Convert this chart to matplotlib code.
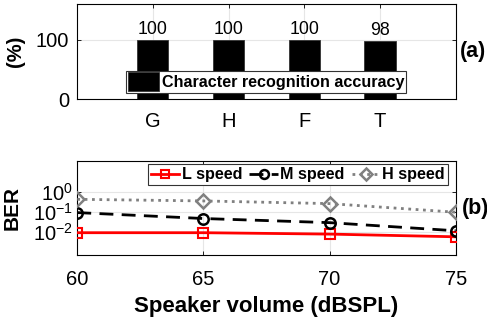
import matplotlib
matplotlib.use('Agg')
import matplotlib.pyplot as plt
import numpy as np

plt.rcParams['font.family'] = ['Liberation Sans', 'DejaVu Sans']
plt.rcParams['mathtext.fontset'] = 'custom'
plt.rcParams['mathtext.rm'] = 'Liberation Sans'
plt.rcParams['mathtext.it'] = 'Liberation Sans:italic'
plt.rcParams['mathtext.bf'] = 'Liberation Sans:bold'

# (a) character recognition accuracy per gesture set
chars = ['G', 'H', 'F', 'T']
accuracy = [100, 100, 100, 98]

# (b) BER vs speaker volume
volume = [60, 65, 70, 75]
ber_low = [0.0088, 0.0088, 0.0075, 0.0055]
ber_mid = [0.089, 0.045, 0.028, 0.011]
ber_high = [0.41, 0.34, 0.25, 0.093]

fig = plt.figure(figsize=(4.87, 3.2), dpi=100)
ax1 = fig.add_axes([0.1587, 0.6906, 0.777, 0.296])
ax2 = fig.add_axes([0.1587, 0.204, 0.777, 0.294])

grid_col = '#e6e6e6'

# --- top panel ---
xpos = np.arange(1, len(chars) + 1)
ax1.bar(xpos, accuracy, width=0.41, color='black', edgecolor='#333333',
        linewidth=0.6, label='Character recognition accuracy', zorder=2)
for x, v in zip(xpos, accuracy):
    ax1.text(x, v + 3, str(v), ha='center', va='bottom', fontsize=12.8)
ax1.set_xlim(0, 5)
ax1.set_ylim(0, 160)
ax1.set_xticks(xpos)
ax1.set_xticklabels(chars)
ax1.set_yticks([0, 100])
ax1.grid(True, color=grid_col, linewidth=0.8, zorder=0)
ax1.set_axisbelow(True)
ax1.tick_params(direction='in', length=3, labelsize=14.5, top=True, right=True,
                width=0.6, pad=6)
ax1.tick_params(axis='x', pad=9)
ax1.set_ylabel('(%)', fontsize=14.5, fontweight='bold')
ax1.yaxis.set_label_coords(-0.138, 0.5)
leg1 = ax1.legend(loc='lower center', bbox_to_anchor=(0.499, 0.063),
                  prop={'weight': 'bold', 'size': 11.6}, handlelength=1.9,
                  handleheight=1.45, handletextpad=0.2, borderpad=0.1,
                  fancybox=False, framealpha=1, edgecolor='#333333',
                  borderaxespad=0)
leg1.get_frame().set_linewidth(0.8)
ax1.text(1.011, 0.5, '(a)', transform=ax1.transAxes, fontsize=15.5,
         fontweight='bold', va='center', ha='left')

# --- bottom panel ---
ax2.plot(volume, ber_low, color='red', linestyle='-', linewidth=2,
         marker='s', markersize=6.5, markerfacecolor='none',
         markeredgewidth=1.5, label='L speed', zorder=3)
ax2.plot(volume, ber_mid, color='black', linestyle=(0, (5, 3)), linewidth=2,
         marker='o', markersize=7.5, markerfacecolor='none',
         markeredgewidth=1.8, label='M speed', zorder=3)
ax2.plot(volume, ber_high, color='#808080', linestyle=':', linewidth=2,
         marker='D', markersize=7, markerfacecolor='none',
         markeredgewidth=1.8, label='H speed', zorder=3)
ax2.set_yscale('log')
ax2.set_xlim(60, 75)
ax2.set_ylim(7e-4, 35)
ax2.set_xticks(volume)
ax2.set_yticks([1e-2, 1e-1, 1e0])
ax2.set_yticklabels(['$10^{-2}$', '$10^{-1}$', '$10^{0}$'])
ax2.grid(True, which='major', color=grid_col, linewidth=0.8)
ax2.grid(True, which='minor', axis='y', color='#e6e6e6', linestyle=':',
         linewidth=0.7)
ax2.tick_params(which='both', direction='in', top=True, right=True, width=0.6)
ax2.tick_params(which='major', length=3, labelsize=14.5, pad=3)
ax2.tick_params(axis='x', pad=11)
ax2.tick_params(which='minor', length=2)
ax2.set_ylabel('BER', fontsize=15, fontweight='bold')
ax2.yaxis.set_label_coords(-0.146, 0.5)
ax2.set_xlabel('Speaker volume (dBSPL)', fontsize=16, fontweight='bold',
               labelpad=5)
leg2 = ax2.legend(loc='upper right', bbox_to_anchor=(0.98, 0.965), ncol=3,
                  prop={'weight': 'bold', 'size': 11.6}, handlelength=1.75,
                  handletextpad=0.15, columnspacing=0.45, borderpad=0.2,
                  borderaxespad=0, fancybox=False, framealpha=1,
                  edgecolor='#333333', markerscale=0.85)
leg2.get_frame().set_linewidth(0.8)
ax2.text(1.017, 0.49, '(b)', transform=ax2.transAxes, fontsize=15.5,
         fontweight='bold', va='center', ha='left')

fig.savefig('out.png', dpi=100)
